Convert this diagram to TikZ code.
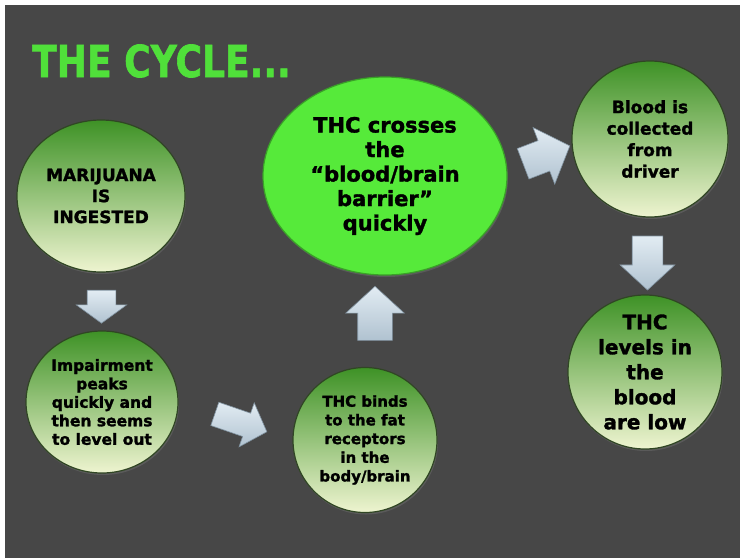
\documentclass[tikz,border=0pt]{standalone}
\usepackage{fontspec}
\setmainfont{DejaVu Sans}[BoldFeatures={FakeBold=1.6}]
\usetikzlibrary{calc, shapes.geometric, shapes.arrows, shadows}

\definecolor{board}{RGB}{71,71,71}
\definecolor{titlegreen}{RGB}{80,224,58}
\definecolor{stagetop}{RGB}{62,146,38}
\definecolor{stagemid}{RGB}{158,202,90}
\definecolor{stagebot}{RGB}{238,244,208}
\definecolor{stagerim}{RGB}{48,70,36}
\definecolor{crossgreen}{RGB}{86,234,58}
\definecolor{crossrim}{RGB}{58,160,40}
\definecolor{arrowtop}{RGB}{226,236,243}
\definecolor{arrowbot}{RGB}{176,194,208}
\definecolor{arrowrim}{RGB}{128,146,160}

\begin{document}
\begin{tikzpicture}[x=1pt, y=-1pt,
    stage/.style={ellipse, inner sep=-15pt, align=center, text=black,
        draw=stagerim, line width=1.2pt,
        top color=stagetop, middle color=stagemid, bottom color=stagebot,
        drop shadow={shadow xshift=1pt, shadow yshift=-2pt, opacity=0.35}},
    flow/.style={single arrow, inner xsep=0pt, single arrow tip angle=95,
        single arrow head indent=0pt, draw=arrowrim, line width=0.6pt,
        top color=arrowtop, bottom color=arrowbot}]
    \useasboundingbox (0,0) rectangle (740,558);
    \fill[white] (0,0) rectangle (740,558);
    \fill[board] (5,5) rectangle (740,558);

    \node[anchor=base west, inner sep=0pt, text=titlegreen,
        font=\fontsize{44}{44}\selectfont\bfseries] (title) at (32,77)
        {\scalebox{0.82}[1]{THE CYCLE...}};

    % Stages of the cycle
    \node[stage, minimum width=168pt, minimum height=152pt,
        font=\fontsize{17}{21}\selectfont\bfseries] (ingest) at (101,196)
        {MARIJUANA\\IS\\INGESTED};
    \node[stage, minimum width=152pt, minimum height=142pt,
        font=\fontsize{15.5}{18.5}\selectfont\bfseries] (impair) at (102,402)
        {Impairment\\peaks\\quickly and\\then seems\\to level out};
    \node[stage, minimum width=144pt, minimum height=145pt,
        font=\fontsize{15}{18.7}\selectfont\bfseries] (binds) at (365,440)
        {THC binds\\to the fat\\receptors\\in the\\body/brain};
    \node[stage, minimum width=244pt, minimum height=198pt,
        top color=crossgreen, middle color=crossgreen, bottom color=crossgreen,
        draw=crossrim, font=\fontsize{21}{24.5}\selectfont\bfseries] (cross) at (385,176)
        {THC crosses\\the\\“blood/brain\\barrier”\\quickly};
    \node[stage, minimum width=156pt, minimum height=156pt,
        font=\fontsize{17}{21.5}\selectfont\bfseries] (blood) at (650,139)
        {Blood is\\collected\\from\\driver};
    \node[stage, minimum width=154pt, minimum height=154pt,
        font=\fontsize{20}{25}\selectfont\bfseries] (levels) at (645,372)
        {THC\\levels in\\the\\blood\\are low};

    % Block arrows between the stages
    \node[flow, minimum height=33pt, inner ysep=14pt, single arrow head extend=11pt,
        single arrow tip angle=108, rotate=-90] (down1)
        at ($(ingest.south)!0.5!(impair.north)$) {};
    \node[flow, minimum height=55pt, inner ysep=12pt, single arrow head extend=11pt,
        rotate=-19] (right1) at ($(impair.east)!0.5!(binds.west)$) {};
    \node[flow, minimum height=54pt, inner ysep=17pt, single arrow head extend=12pt,
        rotate=90] (up1) at ($(binds.north)!0.5!(cross.south)$) {};
    \node[flow, minimum height=50pt, inner ysep=16pt, single arrow head extend=14pt,
        rotate=21] (right2) at ($(cross.east)!0.5!(blood.west)$) {};
    \node[flow, minimum height=54pt, inner ysep=15pt, single arrow head extend=12pt,
        rotate=-90] (down2) at ($(blood.south)!0.5!(levels.north)$) {};
\end{tikzpicture}
\end{document}
